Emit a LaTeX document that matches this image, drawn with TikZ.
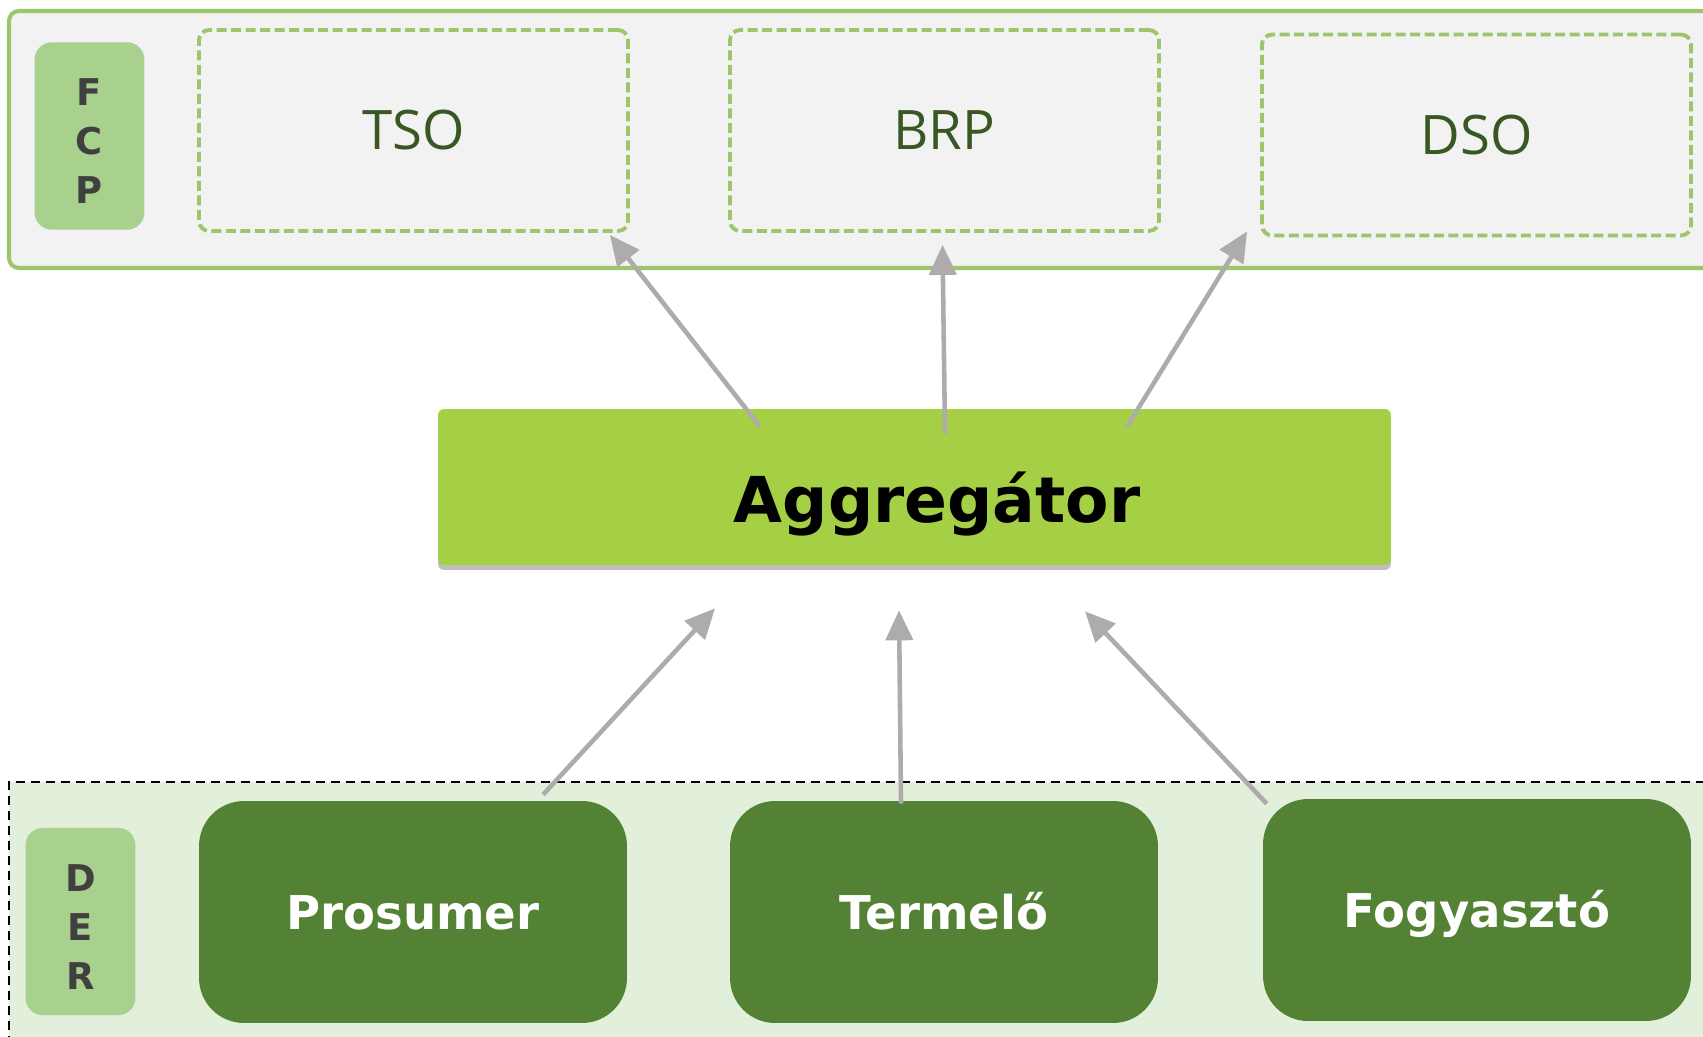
\documentclass[tikz,border=0pt]{standalone}
\usepackage{fontspec}
\usetikzlibrary{positioning}
\usetikzlibrary{arrows.meta}
\usetikzlibrary{shadows}

\newfontfamily\verdfont{DejaVu Sans}
\newfontfamily\segfont{Open Sans}

\definecolor{fcpfill}{HTML}{F2F2F2}
\definecolor{fcpline}{HTML}{9CC56C}
\definecolor{tagfill}{HTML}{A9D18E}
\definecolor{textgreen}{HTML}{385723}
\definecolor{aggfill}{HTML}{A5D045}
\definecolor{derfill}{HTML}{E2EFDA}
\definecolor{boxgreen}{HTML}{548235}
\definecolor{arrowgray}{HTML}{AEABAB}
\definecolor{lettergray}{HTML}{404040}

\begin{document}
\begin{tikzpicture}[x=0.02cm,y=-0.02cm,
  operator/.style={draw=fcpline,line width=2.2pt,dash pattern=on 0.2cm off 0.09cm,
    rounded corners=0.2cm,minimum width=8.58cm,minimum height=4.02cm,inner sep=0pt,
    text=textgreen,font=\segfont\fontsize{31}{37}\selectfont},
  resource/.style={fill=boxgreen,rounded corners=0.9cm,minimum width=8.56cm,
    minimum height=4.44cm,inner sep=0pt,text=white,text height=20pt,text depth=0pt,
    font=\verdfont\bfseries\fontsize{26.5}{32}\selectfont},
  tag/.style={fill=tagfill,rounded corners=0.35cm,minimum width=2.2cm,
    minimum height=3.75cm,inner sep=0pt,align=center,text=lettergray,
    font=\verdfont\bfseries\fontsize{21}{27.9}\selectfont},
  flow/.style={-{Triangle[length=0.6cm,width=0.54cm]},line width=2.6pt,color=arrowgray}]

  \useasboundingbox (0,0) rectangle (1703,1037);
  \clip (0,0) rectangle (1703,1037);
  \fill[white] (0,0) rectangle (1703,1037);

  % bands
  \draw[fill=fcpfill,draw=fcpline,line width=2.3pt,rounded corners=0.2cm]
    (9,11) rectangle (1740,268);
  \fill[derfill] (9,782) rectangle (1740,1060);
  \draw[line width=1.4pt,dash pattern=on 0.18cm off 0.12cm]
    (9,1060) -- (9,782) -- (1740,782);

  % top row
  \node[tag]      (fcp)  at (89.5,136)  {\rule{0pt}{21.5pt}F\\C\\P};
  \node[operator] (tso)  at (413.5,130.5) {TSO};
  \node[operator] (brp)  at (944.5,130.5) {BRP};
  \node[operator] (dso)  at (1476.5,135)  {DSO};

  % middle
  \node[fill=aggfill,rounded corners=0.12cm,minimum width=19.06cm,minimum height=3.12cm,
        inner sep=0pt,text height=40.8pt,text depth=0pt,
        font=\verdfont\bfseries\fontsize{36}{43}\selectfont,
        drop shadow={shadow xshift=0pt,shadow yshift=-0.1cm,opacity=0.25,fill=black}]
        (agg) at (914.5,487) {\hspace{0.9cm}Aggregátor};

  % bottom row
  \node[tag]      (der)  at (80.5,921.5) {\rule{0pt}{21.5pt}D\\E\\R};
  \node[resource] (pros) at (413,912)  {Prosumer};
  \node[resource] (term) at (944,912)  {Termelő};
  \node[resource] (fogy) at (1477,910) {Fogyasztó};

  \path[flow] ([shift={(-154.5,18)}]agg.north) edge ([shift={(-20,2)}]tso.south east)
              ([shift={(30.5,25)}]agg.north)   edge ([shift={(-2,12)}]brp.south)
              ([shift={(212.5,18)}]agg.north)  edge ([shift={(-13,-6)}]dso.south west)
              ([shift={(130,-6)}]pros.north)   edge ([shift={(-199.5,43)}]agg.south)
              ([shift={(-43,3)}]term.north)    edge ([shift={(-15.5,45)}]agg.south)
              ([shift={(4,5)}]fogy.north west) edge ([shift={(170.5,46)}]agg.south);
\end{tikzpicture}
\end{document}
